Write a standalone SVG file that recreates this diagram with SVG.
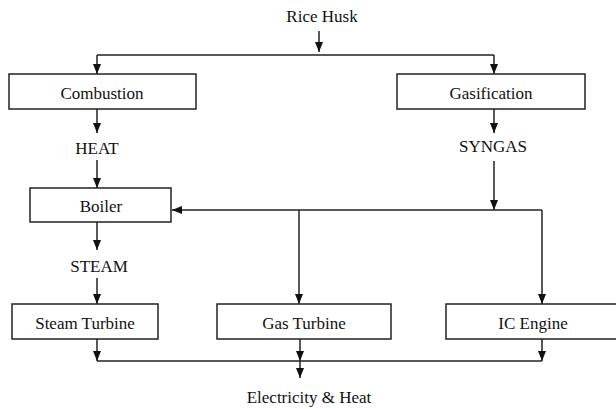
<svg xmlns="http://www.w3.org/2000/svg" width="616" height="409" viewBox="0 0 616 409">
<style>
.box{fill:#fff;stroke:#222;stroke-width:1.5}
.t{font-family:"Liberation Serif","Times New Roman",serif;font-size:17px;fill:#111;text-anchor:middle}
.c{fill:none;stroke:#222;stroke-width:1.5}
.a{marker-end:url(#ah)}
</style>
<defs>
<marker id="ah" markerUnits="userSpaceOnUse" markerWidth="10" markerHeight="10" viewBox="0 0 10 10" refX="10" refY="5" orient="auto">
<path d="M0,1 L10,5 L0,9 z" fill="#111"/>
</marker>
</defs>
<rect width="616" height="409" fill="#fff"/>
<g id="connectors">
<path class="c a" d="M319,31 V52"/>
<path class="c" d="M97,55 H494"/>
<path class="c a" d="M97,55 V74"/>
<path class="c a" d="M494,55 V74"/>
<path class="c a" d="M97,109 V133"/>
<path class="c a" d="M97,160 V188"/>
<path class="c a" d="M97,222 V250"/>
<path class="c a" d="M97,278 V304"/>
<path class="c a" d="M494,109 V133"/>
<path class="c a" d="M494,161 V210"/>
<path class="c a" d="M542,210 H172"/>
<path class="c a" d="M542,210 V304"/>
<path class="c a" d="M299,210 V304"/>
<path class="c a" d="M97,339 V361"/>
<path class="c a" d="M300,339 V361"/>
<path class="c a" d="M542,339 V361"/>
<path class="c" d="M97,361 H542"/>
<path class="c a" d="M300,361 V378"/>
</g>
<g id="rice-husk"><text class="t" x="322" y="22">Rice Husk</text></g>
<g id="combustion"><rect class="box" x="9" y="74" width="187" height="35"/><text class="t" x="102" y="99">Combustion</text></g>
<g id="gasification"><rect class="box" x="397" y="74" width="188" height="35"/><text class="t" x="491" y="99">Gasification</text></g>
<g id="heat"><text class="t" x="97" y="154">HEAT</text></g>
<g id="syngas"><text class="t" x="493" y="152">SYNGAS</text></g>
<g id="boiler"><rect class="box" x="30" y="188" width="141" height="34"/><text class="t" x="101" y="212">Boiler</text></g>
<g id="steam"><text class="t" x="99" y="272">STEAM</text></g>
<g id="steam-turbine"><rect class="box" x="12" y="304" width="146" height="35"/><text class="t" x="85" y="329">Steam Turbine</text></g>
<g id="gas-turbine"><rect class="box" x="217" y="304" width="174" height="35"/><text class="t" x="304" y="329">Gas Turbine</text></g>
<g id="ic-engine"><rect class="box" x="446" y="304" width="176" height="35"/><text class="t" x="533" y="329">IC Engine</text></g>
<g id="electricity-heat"><text class="t" x="309" y="403">Electricity &amp; Heat</text></g>
</svg>
